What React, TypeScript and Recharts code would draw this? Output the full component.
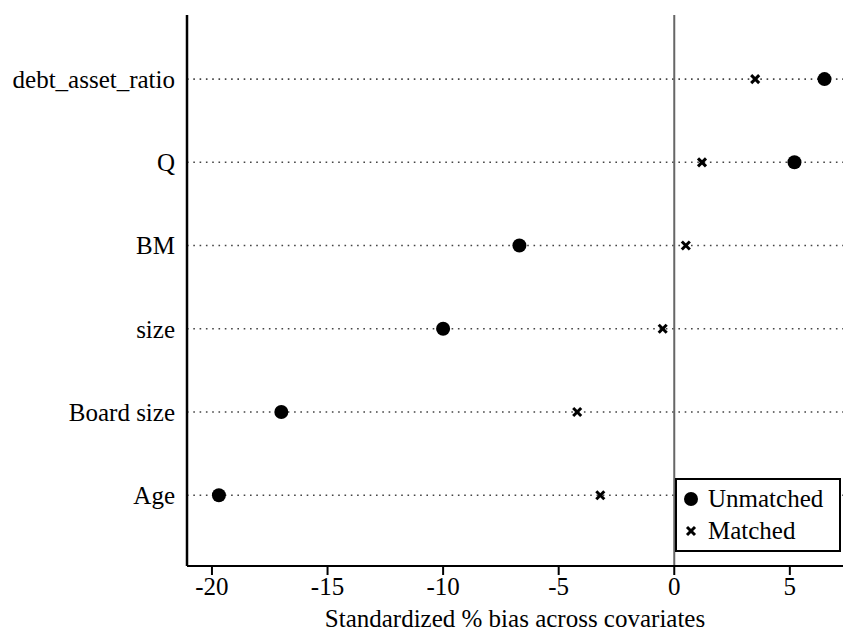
import React from 'react'
import { ScatterChart, Scatter, XAxis, YAxis, ReferenceLine } from 'recharts'

// covariates, bottom to top
const covariates = ['Age', 'Board size', 'size', 'BM', 'Q', 'debt_asset_ratio']
const unmatched = [-19.7, -17.0, -10.0, -6.7, 5.2, 6.5]
const matched = [-3.2, -4.2, -0.5, 0.5, 1.2, 3.5]
const xTicks = [-20, -15, -10, -5, 0, 5]
const rows = covariates.map((_, i) => i + 1)

const font = '"Liberation Serif", "Times New Roman", serif'

const unmatchedData = unmatched.map((v, i) => ({ x: v, y: i + 1 }))
const matchedData = matched.map((v, i) => ({ x: v, y: i + 1 }))

const Dot = (props: any) => <circle cx={props.cx} cy={props.cy} r={7} fill="#000" />

const Cross = (props: any) => {
  const { cx, cy } = props
  const d = 4
  return (
    <g stroke="#000" strokeWidth={3} strokeLinecap="butt">
      <line x1={cx - d} y1={cy - d} x2={cx + d} y2={cy + d} />
      <line x1={cx - d} y1={cy + d} x2={cx + d} y2={cy - d} />
    </g>
  )
}

const LegendBox = () => (
  <div
    style={{
      position: 'absolute',
      left: 675,
      top: 478,
      border: '2px solid #000',
      background: '#fff',
      width: 166,
      height: 74,
      boxSizing: 'border-box',
      fontFamily: font,
      fontSize: 25,
      padding: '3px 0 0 5px',
      lineHeight: '32px',
    }}
  >
    <div style={{ display: 'flex', alignItems: 'center' }}>
      <svg width={26} height={20}>
        <circle cx={9} cy={10} r={7} fill="#000" />
      </svg>
      <span>Unmatched</span>
    </div>
    <div style={{ display: 'flex', alignItems: 'center' }}>
      <svg width={26} height={20}>
        <g stroke="#000" strokeWidth={3}>
          <line x1={5} y1={6} x2={13} y2={14} />
          <line x1={5} y1={14} x2={13} y2={6} />
        </g>
      </svg>
      <span>Matched</span>
    </div>
  </div>
)

export default function App() {
  return (
    <div style={{ position: 'absolute', left: 0, top: 0, width: 844, height: 633, background: '#fff' }}>
      <ScatterChart width={844} height={633} margin={{ top: 15, right: 1, bottom: 0, left: 0 }}>
        <XAxis
          type="number"
          dataKey="x"
          domain={[-21.08, 7.3]}
          ticks={xTicks}
          allowDataOverflow
          height={67}
          axisLine={{ stroke: '#000', strokeWidth: 2 }}
          tickLine={{ stroke: '#000', strokeWidth: 2 }}
          tickSize={9}
          tickMargin={2}
          tick={{ fill: '#000', fontSize: 25, fontFamily: font }}
          label={{ value: 'Standardized % bias across covariates', position: 'insideBottom', offset: 6, fill: '#000', fontSize: 25, fontFamily: font }}
        />
        <YAxis
          type="number"
          dataKey="y"
          domain={[0.15, 6.77]}
          ticks={rows}
          allowDataOverflow
          width={187}
          axisLine={{ stroke: '#000', strokeWidth: 2.5 }}
          tickLine={false}
          tickSize={0}
          tickMargin={12}
          tickFormatter={(v: number) => covariates[v - 1] ?? ''}
          tick={{ fill: '#000', fontSize: 25, fontFamily: font }}
        />
        {rows.map((r) => (
          <ReferenceLine key={r} y={r} stroke="#444" strokeWidth={1.6} strokeDasharray="1.6 4.7" />
        ))}
        <ReferenceLine x={0} stroke="#666" strokeWidth={2} />
        <Scatter name="Unmatched" data={unmatchedData} shape={Dot} isAnimationActive={false} />
        <Scatter name="Matched" data={matchedData} shape={Cross} isAnimationActive={false} />
      </ScatterChart>
      <LegendBox />
    </div>
  )
}
